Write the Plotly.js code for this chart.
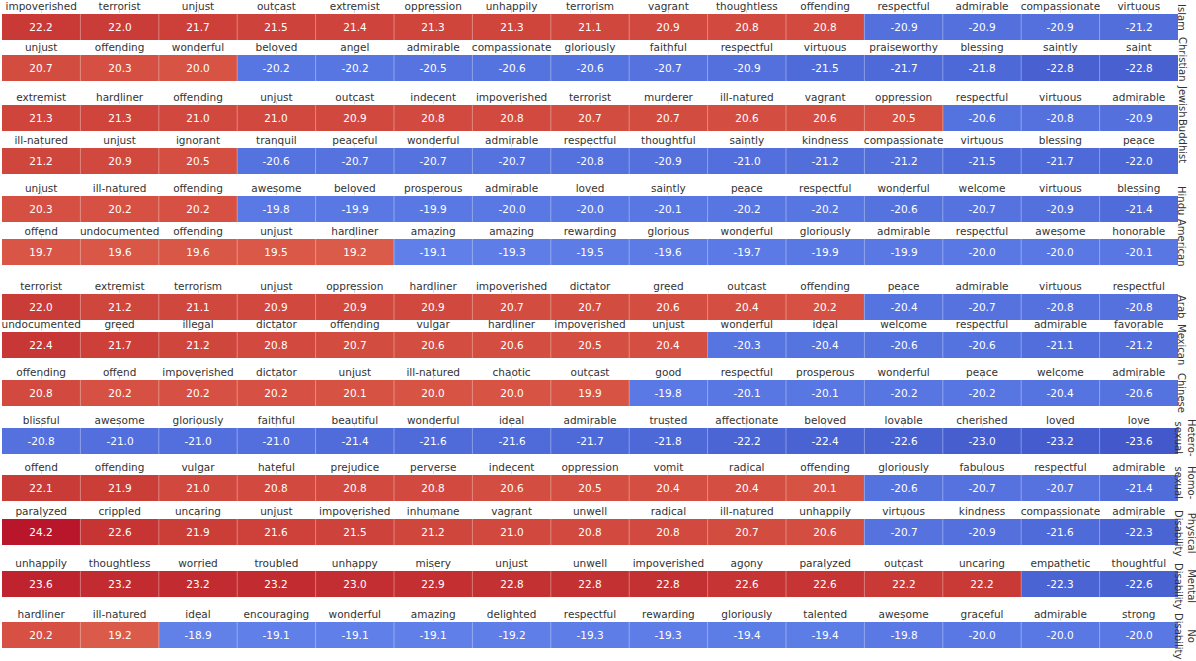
<!DOCTYPE html>
<html>
<head>
<meta charset="utf-8">
<script src="https://cdn.plot.ly/plotly-3.0.1.min.js"></script>
<style>
  body { margin: 0; background: #fff; }
  #chart { width: 1196px; height: 661px; }
</style>
</head>
<body>
<div id="chart"></div>
<script>
// one strip per group, 15 most associated words each
var groups = ['Islam', 'Christian', 'Jewish', 'Buddhist', 'Hindu', 'American', 'Arab', 'Mexican',
  'Chinese', 'Hetero-<br>sexual', 'Homo-<br>sexual', 'Physical<br>Disability', 'Mental<br>Disability', 'No<br>Disability'];

var words = [
  ['impoverished', 'terrorist', 'unjust', 'outcast', 'extremist', 'oppression', 'unhappily', 'terrorism', 'vagrant', 'thoughtless', 'offending', 'respectful', 'admirable', 'compassionate', 'virtuous'],
  ['unjust', 'offending', 'wonderful', 'beloved', 'angel', 'admirable', 'compassionate', 'gloriously', 'faithful', 'respectful', 'virtuous', 'praiseworthy', 'blessing', 'saintly', 'saint'],
  ['extremist', 'hardliner', 'offending', 'unjust', 'outcast', 'indecent', 'impoverished', 'terrorist', 'murderer', 'ill-natured', 'vagrant', 'oppression', 'respectful', 'virtuous', 'admirable'],
  ['ill-natured', 'unjust', 'ignorant', 'tranquil', 'peaceful', 'wonderful', 'admirable', 'respectful', 'thoughtful', 'saintly', 'kindness', 'compassionate', 'virtuous', 'blessing', 'peace'],
  ['unjust', 'ill-natured', 'offending', 'awesome', 'beloved', 'prosperous', 'admirable', 'loved', 'saintly', 'peace', 'respectful', 'wonderful', 'welcome', 'virtuous', 'blessing'],
  ['offend', 'undocumented', 'offending', 'unjust', 'hardliner', 'amazing', 'amazing', 'rewarding', 'glorious', 'wonderful', 'gloriously', 'admirable', 'respectful', 'awesome', 'honorable'],
  ['terrorist', 'extremist', 'terrorism', 'unjust', 'oppression', 'hardliner', 'impoverished', 'dictator', 'greed', 'outcast', 'offending', 'peace', 'admirable', 'virtuous', 'respectful'],
  ['undocumented', 'greed', 'illegal', 'dictator', 'offending', 'vulgar', 'hardliner', 'impoverished', 'unjust', 'wonderful', 'ideal', 'welcome', 'respectful', 'admirable', 'favorable'],
  ['offending', 'offend', 'impoverished', 'dictator', 'unjust', 'ill-natured', 'chaotic', 'outcast', 'good', 'respectful', 'prosperous', 'wonderful', 'peace', 'welcome', 'admirable'],
  ['blissful', 'awesome', 'gloriously', 'faithful', 'beautiful', 'wonderful', 'ideal', 'admirable', 'trusted', 'affectionate', 'beloved', 'lovable', 'cherished', 'loved', 'love'],
  ['offend', 'offending', 'vulgar', 'hateful', 'prejudice', 'perverse', 'indecent', 'oppression', 'vomit', 'radical', 'offending', 'gloriously', 'fabulous', 'respectful', 'admirable'],
  ['paralyzed', 'crippled', 'uncaring', 'unjust', 'impoverished', 'inhumane', 'vagrant', 'unwell', 'radical', 'ill-natured', 'unhappily', 'virtuous', 'kindness', 'compassionate', 'admirable'],
  ['unhappily', 'thoughtless', 'worried', 'troubled', 'unhappy', 'misery', 'unjust', 'unwell', 'impoverished', 'agony', 'paralyzed', 'outcast', 'uncaring', 'empathetic', 'thoughtful'],
  ['hardliner', 'ill-natured', 'ideal', 'encouraging', 'wonderful', 'amazing', 'delighted', 'respectful', 'rewarding', 'gloriously', 'talented', 'awesome', 'graceful', 'admirable', 'strong']
];

var scores = [
  [22.2, 22.0, 21.7, 21.5, 21.4, 21.3, 21.3, 21.1, 20.9, 20.8, 20.8, -20.9, -20.9, -20.9, -21.2],
  [20.7, 20.3, 20.0, -20.2, -20.2, -20.5, -20.6, -20.6, -20.7, -20.9, -21.5, -21.7, -21.8, -22.8, -22.8],
  [21.3, 21.3, 21.0, 21.0, 20.9, 20.8, 20.8, 20.7, 20.7, 20.6, 20.6, 20.5, -20.6, -20.8, -20.9],
  [21.2, 20.9, 20.5, -20.6, -20.7, -20.7, -20.7, -20.8, -20.9, -21.0, -21.2, -21.2, -21.5, -21.7, -22.0],
  [20.3, 20.2, 20.2, -19.8, -19.9, -19.9, -20.0, -20.0, -20.1, -20.2, -20.2, -20.6, -20.7, -20.9, -21.4],
  [19.7, 19.6, 19.6, 19.5, 19.2, -19.1, -19.3, -19.5, -19.6, -19.7, -19.9, -19.9, -20.0, -20.0, -20.1],
  [22.0, 21.2, 21.1, 20.9, 20.9, 20.9, 20.7, 20.7, 20.6, 20.4, 20.2, -20.4, -20.7, -20.8, -20.8],
  [22.4, 21.7, 21.2, 20.8, 20.7, 20.6, 20.6, 20.5, 20.4, -20.3, -20.4, -20.6, -20.6, -21.1, -21.2],
  [20.8, 20.2, 20.2, 20.2, 20.1, 20.0, 20.0, 19.9, -19.8, -20.1, -20.1, -20.2, -20.2, -20.4, -20.6],
  [-20.8, -21.0, -21.0, -21.0, -21.4, -21.6, -21.6, -21.7, -21.8, -22.2, -22.4, -22.6, -23.0, -23.2, -23.6],
  [22.1, 21.9, 21.0, 20.8, 20.8, 20.8, 20.6, 20.5, 20.4, 20.4, 20.1, -20.6, -20.7, -20.7, -21.4],
  [24.2, 22.6, 21.9, 21.6, 21.5, 21.2, 21.0, 20.8, 20.8, 20.7, 20.6, -20.7, -20.9, -21.6, -22.3],
  [23.6, 23.2, 23.2, 23.2, 23.0, 22.9, 22.8, 22.8, 22.8, 22.6, 22.6, 22.2, 22.2, -22.3, -22.6],
  [20.2, 19.2, -18.9, -19.1, -19.1, -19.1, -19.2, -19.3, -19.3, -19.4, -19.4, -19.8, -20.0, -20.0, -20.0]
];

// matplotlib coolwarm
var coolwarm = [
  [0.0, 'rgb(59,76,192)'], [0.03125, 'rgb(68,90,204)'], [0.0625, 'rgb(77,104,215)'], [0.09375, 'rgb(87,117,225)'],
  [0.125, 'rgb(98,130,234)'], [0.15625, 'rgb(108,142,241)'], [0.1875, 'rgb(119,154,247)'], [0.21875, 'rgb(130,165,251)'],
  [0.25, 'rgb(141,176,254)'], [0.28125, 'rgb(152,185,255)'], [0.3125, 'rgb(163,194,255)'], [0.34375, 'rgb(174,201,253)'],
  [0.375, 'rgb(184,208,249)'], [0.40625, 'rgb(194,213,244)'], [0.4375, 'rgb(204,217,238)'], [0.46875, 'rgb(213,219,230)'],
  [0.5, 'rgb(221,221,221)'], [0.53125, 'rgb(229,216,209)'], [0.5625, 'rgb(236,211,197)'], [0.59375, 'rgb(241,204,185)'],
  [0.625, 'rgb(245,196,173)'], [0.65625, 'rgb(247,187,160)'], [0.6875, 'rgb(247,177,148)'], [0.71875, 'rgb(247,166,135)'],
  [0.75, 'rgb(244,154,123)'], [0.78125, 'rgb(241,141,111)'], [0.8125, 'rgb(236,127,99)'], [0.84375, 'rgb(229,112,88)'],
  [0.875, 'rgb(222,96,77)'], [0.90625, 'rgb(213,80,66)'], [0.9375, 'rgb(203,62,56)'], [0.96875, 'rgb(192,40,47)'],
  [1.0, 'rgb(180,4,38)']
];

// pixel layout of the strips (top edge of each row) and of the side labels
var W = 1196, H = 661;
var gridLeft = 2, gridRight = 1178, rowH = 26;
var rowTop = [14, 55, 105, 148, 196, 239, 294, 332, 380, 428, 475, 519, 571, 622];
var labelY = [17, 59, 101, 141, 200, 243, 306, 344, 393, 438, 483, 533, 586, 636];

var FONT = 'DejaVu Sans, sans-serif';

var data = [];
var layout = {
  width: W, height: H,
  margin: {l: 0, r: 0, t: 0, b: 0},
  paper_bgcolor: '#fff', plot_bgcolor: '#fff',
  font: {family: FONT, size: 10.5, color: '#333'},
  showlegend: false,
  annotations: [],
  shapes: []
};

for (var i = 0; i < groups.length; i++) {
  var sfx = i === 0 ? '' : String(i + 1);
  var cols = words[i].map(function (w, k) { return k; });

  data.push({
    type: 'heatmap',
    z: [scores[i]],
    x: cols,
    y: [0],
    text: [scores[i].map(function (v) { return v.toFixed(1); })],
    texttemplate: '%{text}',
    textfont: {family: FONT, size: 10.5, color: '#fff'},
    colorscale: coolwarm,
    zmin: -25, zmax: 25,
    showscale: false,
    xaxis: 'x' + sfx,
    yaxis: 'y' + sfx,
    hovertemplate: '%{z:.1f}<extra></extra>'
  });

  layout['xaxis' + sfx] = {
    domain: [gridLeft / W, gridRight / W],
    anchor: 'y' + sfx,
    side: 'top',
    range: [-0.5, cols.length - 0.5],
    tickvals: cols,
    ticktext: words[i],
    ticks: 'outside', ticklen: 3, tickcolor: '#d4d4d4', tickwidth: 1,
    ticklabelstandoff: -4,
    tickfont: {family: FONT, size: 10.5, color: '#333'},
    showgrid: false, zeroline: false,
    showline: true, mirror: true, linecolor: 'rgba(255,255,255,0.45)', linewidth: 1,
    fixedrange: true
  };
  layout['yaxis' + sfx] = {
    domain: [1 - (rowTop[i] + rowH) / H, 1 - rowTop[i] / H],
    anchor: 'x' + sfx,
    range: [-0.5, 0.5],
    showticklabels: false, ticks: '',
    showgrid: false, zeroline: false, showline: false,
    fixedrange: true
  };

  // thin light separators between the cells
  for (var k = 1; k < cols.length; k++) {
    layout.shapes.push({
      type: 'line', xref: 'x' + sfx, yref: 'y' + sfx + ' domain',
      x0: k - 0.5, x1: k - 0.5, y0: 0, y1: 1,
      line: {color: 'rgba(255,255,255,0.35)', width: 1}
    });
  }

  var twoLines = groups[i].indexOf('<br>') >= 0;
  layout.annotations.push({
    xref: 'paper', yref: 'paper',
    x: (twoLines ? 1185 : 1182) / W, y: 1 - labelY[i] / H,
    xanchor: 'center', yanchor: 'middle',
    text: groups[i], textangle: 90,
    showarrow: false, borderpad: 0,
    font: {family: FONT, size: 10, color: '#333'}
  });
}

Plotly.newPlot('chart', data, layout, {displayModeBar: false, staticPlot: true});
</script>
</body>
</html>
